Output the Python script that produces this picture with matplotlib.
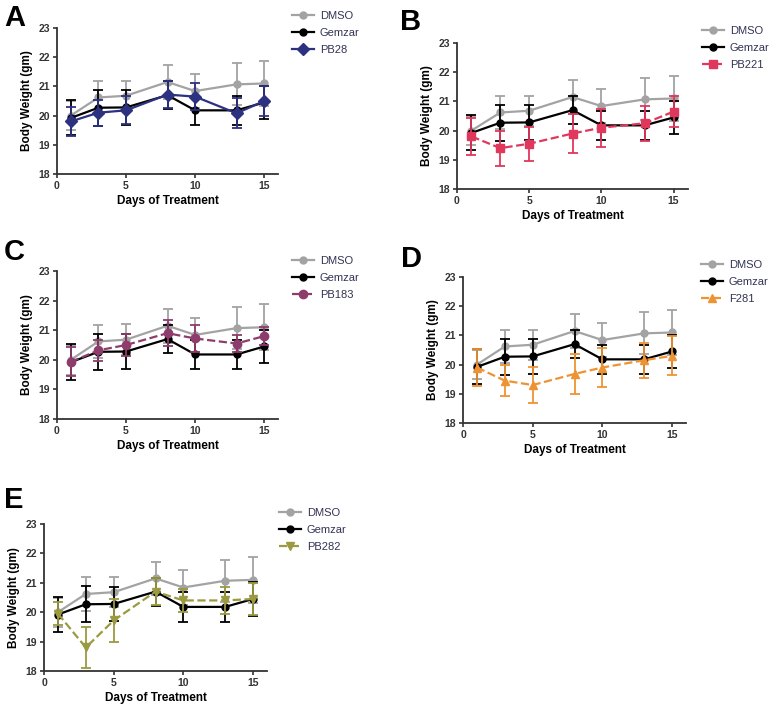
import numpy as np
from matplotlib import pyplot as plt

plt.rcParams['font.family'] = ['Liberation Sans', 'DejaVu Sans']

days = [1, 3, 5, 8, 10, 13, 15]

dmso = [20.0, 20.62, 20.68, 21.15, 20.84, 21.07, 21.1]
dmso_err = [0.5, 0.57, 0.52, 0.57, 0.58, 0.72, 0.78]
gemzar = [19.92, 20.27, 20.28, 20.7, 20.18, 20.18, 20.45]
gemzar_err = [0.6, 0.61, 0.59, 0.48, 0.5, 0.5, 0.57]

pb28 = [19.8, 20.1, 20.18, 20.72, 20.65, 20.08, 20.5]
pb28_err = [0.5, 0.45, 0.48, 0.47, 0.47, 0.52, 0.5]
pb221 = [19.8, 19.4, 19.55, 19.9, 20.1, 20.25, 20.65]
pb221_err = [0.63, 0.6, 0.58, 0.66, 0.65, 0.6, 0.53]
pb183 = [19.93, 20.32, 20.5, 20.9, 20.72, 20.55, 20.8]
pb183_err = [0.49, 0.36, 0.38, 0.45, 0.44, 0.3, 0.3]
f281 = [19.9, 19.45, 19.3, 19.68, 19.9, 20.15, 20.3]
f281_err = [0.63, 0.52, 0.62, 0.68, 0.66, 0.6, 0.67]
pb282 = [19.95, 18.8, 19.72, 20.7, 20.4, 20.4, 20.45]
pb282_err = [0.4, 0.69, 0.73, 0.47, 0.38, 0.45, 0.55]

panels = [
    # label, name, values, errs, color, marker, axes rect (px), label pos, legend pos
    ("A", "PB28", pb28, pb28_err, "#2c3280", "D", (57, 28, 278, 174), (4, 4), (292, 11)),
    ("B", "PB221", pb221, pb221_err, "#e0375c", "s", (457, 43, 688, 189), (400, 8), (702, 26)),
    ("C", "PB183", pb183, pb183_err, "#8e3c6c", "o", (57, 271, 278, 419), (4, 238), (292, 256)),
    ("D", "F281", f281, f281_err, "#ee9334", "^", (463, 277, 686, 423), (401, 245), (701, 260)),
    ("E", "PB282", pb282, pb282_err, "#9b9a40", "v", (44, 524, 267, 671), (4, 486), (279, 508)),
]

W, H = 778, 709
fig = plt.figure(figsize=(W / 100, H / 100), dpi=100)

for lab, name, vals, errs, col, mk, rect, lpos, legpos in panels:
    x0, y0, x1, y1 = rect
    ax = fig.add_axes([x0 / W, 1 - y1 / H, (x1 - x0) / W, (y1 - y0) / H])
    c1 = ax.errorbar(days, dmso, yerr=dmso_err, color="#a3a3a3", marker="o", ms=5,
                     lw=1.6, capsize=3.5, elinewidth=1.3, capthick=1.3, zorder=2)
    c2 = ax.errorbar(days, gemzar, yerr=gemzar_err, color="black", marker="o", ms=5,
                     lw=1.6, capsize=3.5, elinewidth=1.3, capthick=1.3, zorder=3)
    ls = "-" if name == "PB28" else "--"
    c3 = ax.errorbar(days, vals, yerr=errs, color=col, marker=mk, ms=6, ls=ls,
                     lw=1.6, capsize=3.5, elinewidth=1.3, capthick=1.3, zorder=4)
    ax.set_xlim(0, 16)
    ax.set_ylim(18, 23)
    ax.set_xticks([0, 5, 10, 15])
    ax.set_yticks([18, 19, 20, 21, 22, 23])
    for s in ["top", "right"]:
        ax.spines[s].set_visible(False)
    for s in ["left", "bottom"]:
        ax.spines[s].set_linewidth(1.3)
        ax.spines[s].set_color("#333333")
    ax.tick_params(labelsize=7.5, length=3, width=1.2, colors="#333333", pad=2)
    for t in ax.get_xticklabels() + ax.get_yticklabels():
        t.set_fontweight("bold")
    ax.set_ylabel("Body Weight (gm)", fontsize=8.5, fontweight="bold", labelpad=4)
    ax.set_xlabel("Days of Treatment", fontsize=8.5, fontweight="bold", labelpad=3)
    leg = ax.legend([c1[0], c2[0], c3[0]], ["DMSO", "Gemzar", name],
                    loc="upper left", bbox_to_anchor=(legpos[0] / W, 1 - legpos[1] / H),
                    bbox_transform=fig.transFigure, frameon=False, fontsize=8,
                    handlelength=2.0, handletextpad=0.5, labelspacing=0.62,
                    borderaxespad=0, borderpad=0)
    for t in leg.get_texts():
        t.set_color("#333355")
    fig.text(lpos[0] / W, 1 - lpos[1] / H, lab, fontsize=21, fontweight="bold",
             va="top", ha="left")

fig.savefig("out.png", dpi=100)
